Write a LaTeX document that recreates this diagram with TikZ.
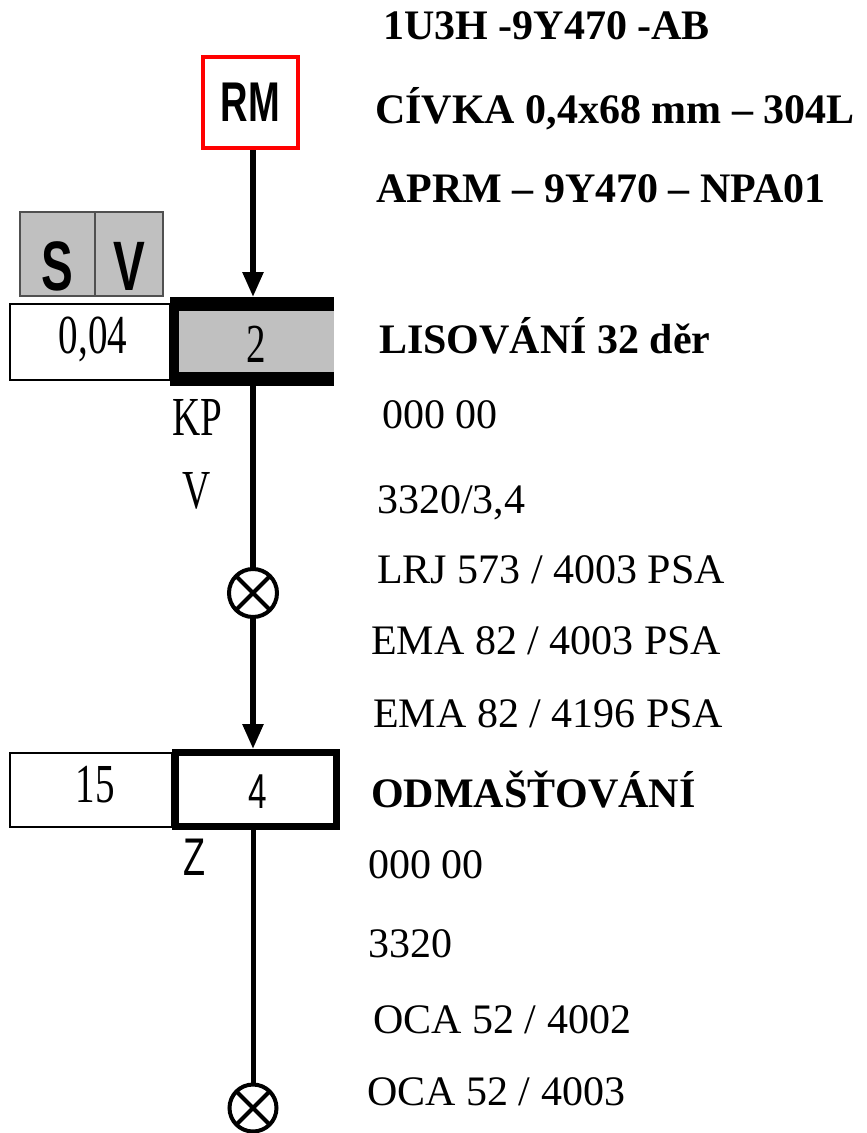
\documentclass[tikz,border=0pt]{standalone}
\usepackage{fontspec}
\setmainfont{Liberation Serif}
\newfontfamily\nserif[FakeStretch=0.71]{Liberation Serif}
\newfontfamily\nsans[FakeStretch=0.68]{Liberation Sans}
\usetikzlibrary{arrows.meta}
\definecolor{boxgray}{HTML}{C0C0C0}
\definecolor{rmred}{HTML}{FF0000}
\definecolor{svedge}{HTML}{505050}
\begin{document}
\begin{tikzpicture}[x=1pt,y=-1pt,
  txt/.style={anchor=base west, inner sep=0pt, font=\fontsize{42}{50}\selectfont},
  btxt/.style={anchor=base west, inner sep=0pt, font=\fontsize{42}{50}\selectfont\bfseries},
  lbl/.style={inner sep=0pt, font=\nserif\fontsize{55}{60}\selectfont},
  slbl/.style={inner sep=0pt},
  flow/.style={line width=5.5pt},
  arr/.style={flow, -{Triangle[width=20pt,length=25pt]}},
  thinbox/.style={draw, line width=1.5pt, inner sep=0pt, outer sep=0pt},
  xcircle/.style={circle, draw, line width=4pt, inner sep=0pt, outer sep=0pt}
]
\useasboundingbox (0,0) rectangle (867,1133);
\coordinate (ax) at (253,0);

% RM box
\node[draw=rmred, line width=4pt, minimum width=95pt, minimum height=91pt, inner sep=0pt, outer sep=2pt,
      font=\nsans\bfseries\fontsize{56}{60}\selectfont] (rm) at (250.5,102.5) {RM};

% S V box
\node[fill=boxgray, draw=svedge, line width=1.5pt, minimum width=75pt, minimum height=84pt, inner sep=0pt] (s) at (57.5,254) {};
\node[fill=boxgray, draw=svedge, line width=1.5pt, minimum width=68pt, minimum height=84pt, inner sep=0pt] (v) at (129,254) {};
\node[slbl, anchor=base, font=\nsans\bfseries\fontsize{70}{74}\selectfont] (stxt) at (57.5,290) {S};
\node[slbl, anchor=base, font=\nsans\bfseries\fontsize{70}{74}\selectfont] (vtxt) at (129,290) {V};

% 0,04 box
\node[thinbox, minimum width=160pt, minimum height=76pt] (b04) at (90,342) {};
\node[lbl, anchor=base] (t04) at (93,353) {0,04};

% operation 2
\node[fill=black, minimum width=164pt, minimum height=89pt, inner sep=0pt, outer sep=0pt] (b2) at (252,341.5) {};
\fill[boxgray] (179,311) rectangle (334,372);
\node[lbl, anchor=base] (n2) at (256,362) {2};

\draw[arr] (rm.south -| ax) -- (b2.north -| ax);

\node[lbl, anchor=base west] (kp) at (172,435) {KP};
\node[lbl, anchor=base west] (kv) at (182,508) {V};

% inspection circle 1
\node[xcircle, minimum size=48pt] (c1) at (253,593) {};
\draw[line width=4pt] (c1.north east) -- (c1.south west) (c1.north west) -- (c1.south east);
\draw[flow] (b2.south -| ax) -- (c1.north);

% 15 box and operation 4
\node[thinbox, minimum width=162pt, minimum height=74pt] (b15) at (91,790) {};
\node[lbl, anchor=base] (t15) at (95,802) {15};
\node[draw, line width=7pt, minimum width=161pt, minimum height=74pt, inner sep=0pt, outer sep=3.5pt] (b4) at (256,789.5) {};
\node[slbl, anchor=base, font=\nsans\fontsize{49}{55}\selectfont] (n4) at (257.5,808) {4};
\node[slbl, anchor=base west, font=\nsans\fontsize{53}{58}\selectfont] (z) at (183,875) {Z};

\draw[arr] (c1.south) -- (b4.north -| ax);

% inspection circle 2
\node[xcircle, minimum size=47pt] (c2) at (253,1108) {};
\draw[line width=4pt] (c2.north east) -- (c2.south west) (c2.north west) -- (c2.south east);
\draw[line width=5pt, shorten <=-7pt] (b4.south -| ax) -- (c2.north);

% texts
\node[btxt] (t1) at (383,39) {1U3H -9Y470 -AB};
\node[btxt] (t2) at (375,123) {CÍVKA 0,4x68 mm – 304L};
\node[btxt] (t3) at (376,202) {APRM – 9Y470 – NPA01};
\node[btxt] (t4) at (379,353) {LISOVÁNÍ 32 děr};
\node[txt] (t5) at (382,428) {000 00};
\node[txt] (t6) at (377,513) {3320/3,4};
\node[txt] (t7) at (377,583) {LRJ 573 / 4003 PSA};
\node[txt] (t8) at (371,654) {EMA 82 / 4003 PSA};
\node[txt] (t9) at (373,727) {EMA 82 / 4196 PSA};
\node[btxt] (t10) at (371,807) {ODMAŠŤOVÁNÍ};
\node[txt] (t11) at (368,878) {000 00};
\node[txt] (t12) at (368,957) {3320};
\node[txt] (t13) at (373,1033) {OCA 52 / 4002};
\node[txt] (t14) at (367,1105) {OCA 52 / 4003};
\end{tikzpicture}
\end{document}
